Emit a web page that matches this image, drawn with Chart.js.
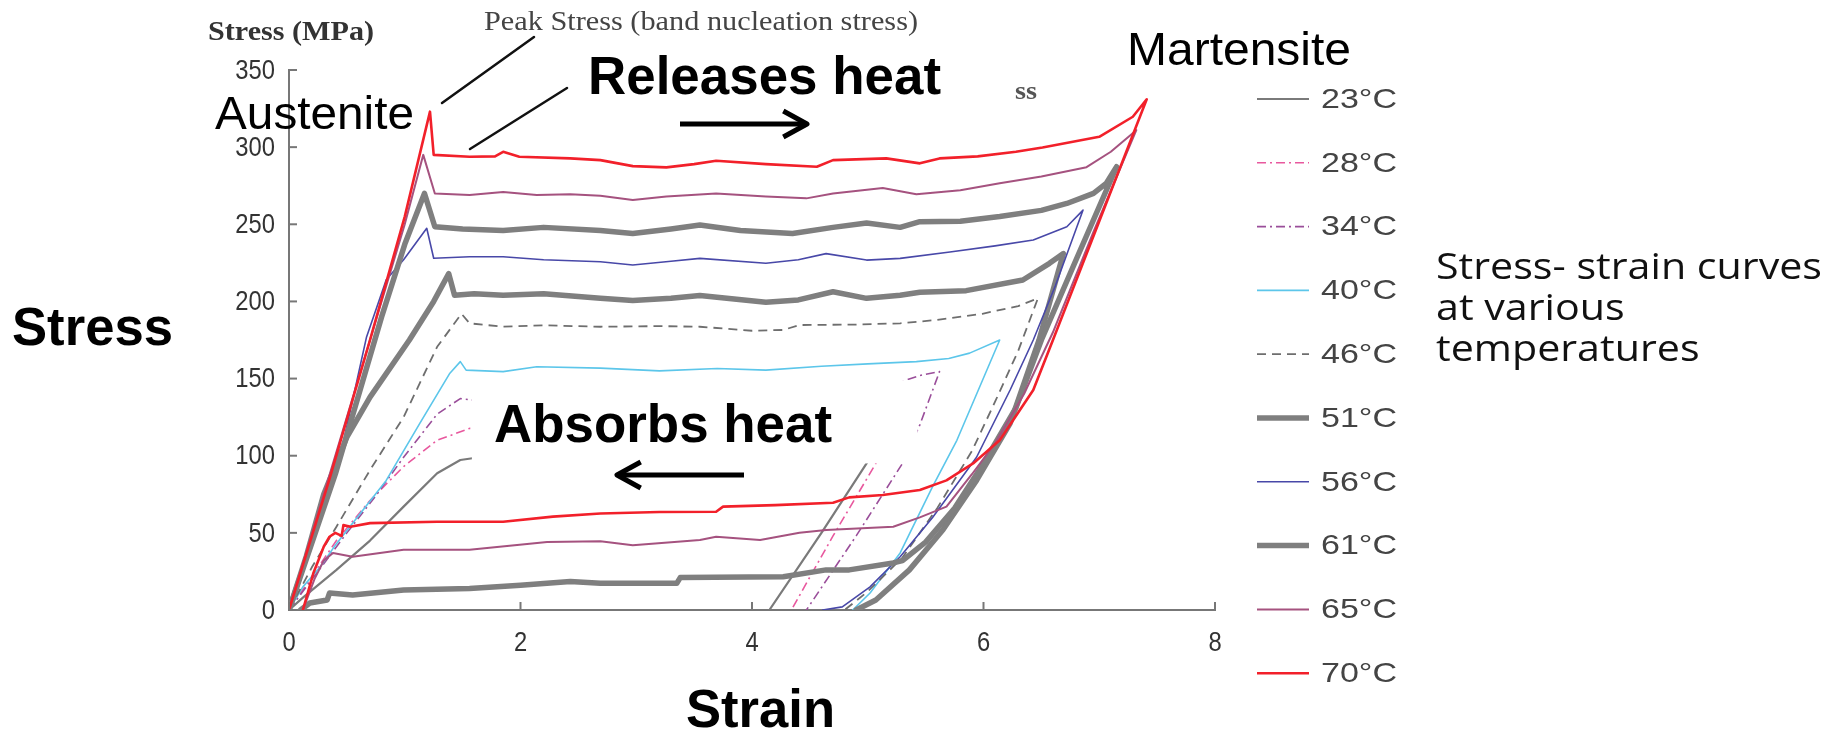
<!DOCTYPE html>
<html>
<head>
<meta charset="utf-8">
<title>Stress-strain curves</title>
<script src="https://cdn.jsdelivr.net/npm/chart.js@4.4.1/dist/chart.umd.min.js"></script>
<style>
  html, body { margin: 0; padding: 0; background: #fff; }
  #wrap { width: 1845px; height: 732px; }
</style>
</head>
<body>
<div id="wrap"><canvas id="ssChart" width="1845" height="732"></canvas></div>
<script>
// Test temperatures (legend order)
const temps = ['23°C', '28°C', '34°C', '40°C', '46°C', '51°C', '56°C', '61°C', '65°C', '70°C'];

// Axis ticks
const xTicks = [0, 2, 4, 6, 8];
const yTicks = [0, 50, 100, 150, 200, 250, 300, 350];

// Loading / unloading loops, [strain %, stress MPa]
const curve23 = [[0,0],[0.12,8],[0.41,26],[0.7,45],[0.99,67],[1.28,88.6],[1.48,97.2],[1.6,98.5],[2.5,100],[4.0,102],
  [5.0,105],[5.1,107],[4.99,95],[4.6,50],[4.15,0]];

const curve28 = [[0,0],[0.2,22],[0.41,45],[0.7,71],[0.99,93],[1.28,110],[1.56,117.7],[2.5,119],[4.0,121],[5.0,124],
  [5.22,126],[5.07,95],[4.7,48],[4.34,0]];

const curve34 = [[0,0],[0.25,25],[0.5,50],[0.75,74],[0.99,99],[1.28,127],[1.48,137],[1.6,136],[2.5,137],[3.5,139],
  [4.5,143],[5.25,147],[5.45,152],[5.62,154.5],[5.45,120],[5.3,95],[4.9,48],[4.47,0]];

const curve40 = [[0,0],[0.12,15],[0.27,28],[0.41,43],[0.84,84],[1.13,121],[1.39,153.5],[1.48,161],[1.53,155.5],
  [1.85,154.5],[2.14,157.7],[2.69,156.8],[3.2,155],[3.7,156.5],[4.12,155.5],[4.6,158],[5.0,159.5],[5.42,161],
  [5.7,163],[5.88,166.5],[6.14,175],[5.77,110],[5.56,80],[5.28,37],[5.02,11],[4.87,0]];

const curve46 = [[0,0],[0.2,28],[0.41,54],[0.7,90.7],[0.99,125],[1.28,170.6],[1.49,192],[1.56,185.8],[1.85,183.6],
  [2.2,184.5],[2.69,183.6],[3.2,184],[3.55,183.6],[4.0,181],[4.27,181.5],[4.41,184.7],[4.9,185],[5.28,185.8],
  [5.6,188],[5.99,192],[6.3,197],[6.47,202],[6.3,168],[6.1,135],[5.9,103],[5.6,66],[5.3,34],[5.0,12],[4.8,0]];

const curve51 = [[0,0],[0.15,35],[0.3,75],[0.5,112],[0.7,138],[1.04,175],[1.25,200],[1.38,218],[1.43,204],[1.6,205],
  [1.85,204],[2.2,205],[2.69,202],[2.97,200.6],[3.3,202],[3.55,203.8],[4.12,199.5],[4.4,201],[4.7,206.3],[4.99,202],
  [5.28,204],[5.45,206],[5.85,207],[6.34,213.9],[6.57,224.7],[6.69,231],[6.48,175],[6.23,121],[5.94,84],[5.65,52],
  [5.36,26],[5.07,6.5],[4.9,0]];

const curve56 = [[0,0],[0.12,24],[0.41,88.6],[0.67,177],[0.84,214],[0.99,227],[1.19,247.4],[1.25,228],[1.56,229],
  [1.85,229],[2.2,227],[2.69,225.7],[2.97,223.6],[3.3,226],[3.55,227.9],[4.12,224.7],[4.4,227],[4.64,231],
  [4.99,226.8],[5.28,227.9],[5.71,232],[6.1,236],[6.43,239.8],[6.72,248.4],[6.86,259.2],[6.62,210],[6.43,175],
  [6.23,142.6],[5.94,99],[5.56,60],[5.28,34.5],[5.02,15],[4.78,2],[4.61,0]];

const curve61 = [[0,0],[0.4,88],[0.8,190],[1.0,237],[1.17,270],[1.26,248.4],[1.5,247],[1.85,246],[2.2,248],[2.69,246],
  [2.97,244],[3.3,247],[3.55,249.5],[3.9,246],[4.35,244],[4.7,248],[4.99,250.8],[5.28,248],[5.45,251.7],[5.8,252],
  [6.14,255],[6.5,259],[6.72,263.5],[6.95,270],[7.06,276.5],[7.15,287.3],[6.8,227],[6.5,175],[6.28,131],[6.0,95],
  [5.75,66],[5.5,44],[5.3,32],[5.22,30.5],[4.84,26],[4.64,26],[4.27,21.6],[3.38,21],[3.35,17.3],[2.69,17.3],
  [2.43,18.4],[2.0,16],[1.56,14],[0.99,13],[0.55,9.7],[0.35,11],[0.33,6.5],[0.18,4.5],[0.1,0]];

const curve65 = [[0,0],[0.6,150],[1.0,250],[1.16,295],[1.26,270],[1.56,269],[1.85,271],[2.14,269],[2.43,269.5],
  [2.69,268.5],[2.97,265.7],[3.26,268],[3.69,270],[4.12,268],[4.47,266.8],[4.7,270],[5.13,273.5],[5.42,269.5],
  [5.8,272],[6.14,276.6],[6.5,281],[6.89,287],[7.1,297],[7.32,311],[6.95,245],[6.6,180],[6.35,140],[6.1,108],
  [5.9,88],[5.68,67],[5.45,60],[5.22,54],[4.64,51.8],[4.41,50],[4.07,45.4],[3.69,47.5],[3.55,45.4],[2.97,42],
  [2.69,44.5],[2.23,44],[1.56,39],[0.99,39],[0.55,34.5],[0.38,37],[0.3,32],[0.22,20],[0.12,0]];

const curve70 = [[0,0],[0.35,85],[0.7,175],[1.0,255],[1.218,323],[1.25,295],[1.56,293.8],[1.78,294],[1.85,297],
  [1.99,293.8],[2.43,292.7],[2.69,291.6],[2.97,287.7],[3.26,286.9],[3.5,289],[3.69,291.2],[4.12,289],[4.56,287.3],
  [4.7,291.6],[5.16,292.7],[5.45,289.5],[5.62,292.7],[5.95,294],[6.28,297],[6.51,299.8],[7.0,306.7],[7.29,319.7],
  [7.41,331],[7.0,252],[6.6,175],[6.43,142.6],[6.14,110],[5.91,95],[5.68,84],[5.45,77.8],[5.13,74.5],[4.84,73],
  [4.7,69.5],[4.2,68],[3.75,67],[3.69,63.7],[3.2,63.5],[2.69,62.5],[2.28,60.5],[1.85,57.2],[1.28,57.2],[0.7,56.3],
  [0.53,54],[0.47,55],[0.455,48],[0.4,50],[0.35,47.5],[0.3,41],[0.21,23.8],[0.12,0]];

const curves = [curve23, curve28, curve34, curve40, curve46, curve51, curve56, curve61, curve65, curve70];

// line styles per temperature
const styles = [
  { color: '#7a7a7a', width: 2.2, dash: [] },
  { color: '#e8589e', width: 1.6, dash: [9, 4, 2, 4] },
  { color: '#9a4e9a', width: 1.6, dash: [9, 4, 2, 4] },
  { color: '#5cc6ea', width: 1.6, dash: [] },
  { color: '#6e6e6e', width: 1.8, dash: [9, 6] },
  { color: '#7f7f7f', width: 5.5, dash: [] },
  { color: '#4848a8', width: 1.6, dash: [] },
  { color: '#7f7f7f', width: 5.5, dash: [] },
  { color: '#a5527f', width: 2, dash: [] },
  { color: '#f2202a', width: 2.6, dash: [] }
];

const SANS = '"Liberation Sans", Arial, Helvetica, sans-serif';
const SERIF = '"Liberation Serif", "Times New Roman", serif';
const NOTE = '"Open Sans", "Noto Sans", sans-serif';

// text squeezed/stretched horizontally; width = target width, or a plain factor via sx
function drawText(ctx, text, x, y, font, color, width, sx) {
  ctx.font = font;
  ctx.fillStyle = color;
  const w = ctx.measureText(text).width;
  const k = width ? width / w : (sx || 1);
  ctx.save();
  ctx.translate(x, y);
  ctx.scale(k, 1);
  ctx.fillText(text, 0, 0);
  ctx.restore();
}

function line(ctx, x0, y0, x1, y1) {
  ctx.beginPath();
  ctx.moveTo(x0, y0);
  ctx.lineTo(x1, y1);
  ctx.stroke();
}

function arrow(ctx, x0, y0, x1, y1) {
  const ang = Math.atan2(y1 - y0, x1 - x0);
  const head = 27;
  line(ctx, x0, y0, x1 - 3 * Math.cos(ang), y1);
  ctx.beginPath();
  ctx.moveTo(x1 - head * Math.cos(ang - 0.5), y1 - head * Math.sin(ang - 0.5));
  ctx.lineTo(x1, y1);
  ctx.lineTo(x1 - head * Math.cos(ang + 0.5), y1 - head * Math.sin(ang + 0.5));
  ctx.stroke();
}

const overlay = {
  id: 'overlay',
  afterDatasetsDraw(chart) {
    const { ctx, chartArea: area, scales: { x, y } } = chart;
    ctx.save();

    // tick marks point into the plot
    ctx.strokeStyle = '#777';
    ctx.lineWidth = 2;
    yTicks.forEach(v => {
      const py = y.getPixelForValue(v);
      line(ctx, area.left, py, area.left + 8, py);
    });
    xTicks.forEach(v => {
      const px = x.getPixelForValue(v);
      line(ctx, px, area.bottom, px, area.bottom - 8);
    });

    // tick labels, slightly condensed digits
    ctx.textBaseline = 'middle';
    ctx.textAlign = 'right';
    yTicks.forEach(v => {
      drawText(ctx, String(v), area.left - 14, y.getPixelForValue(v) + 1, '28px ' + SANS, '#333', 0, 0.85);
    });
    ctx.textAlign = 'center';
    xTicks.forEach(v => {
      drawText(ctx, String(v), x.getPixelForValue(v), area.bottom + 33, '28px ' + SANS, '#333', 0, 0.85);
    });

    // white panel under the lower caption
    const bx0 = x.getPixelForValue(1.58), bx1 = x.getPixelForValue(5.43);
    const by0 = y.getPixelForValue(149), by1 = y.getPixelForValue(95);
    ctx.fillStyle = '#fff';
    ctx.fillRect(bx0, by0, bx1 - bx0, by1 - by0);

    ctx.textAlign = 'left';
    ctx.textBaseline = 'alphabetic';

    // figure labels
    drawText(ctx, 'Stress (MPa)', 208, 40, 'bold 27px ' + SERIF, '#333', 166);
    drawText(ctx, 'Peak Stress (band nucleation stress)', 484, 30, '28px ' + SERIF, '#444', 434);
    drawText(ctx, 'ss', 1015, 99, 'bold 26px ' + SERIF, '#555', 22);

    // leader lines to the peak
    ctx.strokeStyle = '#111';
    ctx.lineWidth = 2.5;
    ctx.lineCap = 'round';
    line(ctx, 442, 103, 534, 37);
    line(ctx, 470, 149, 567, 88);

    // annotations
    drawText(ctx, 'Austenite', 215, 129, '46px ' + SANS, '#000', 199);
    drawText(ctx, 'Martensite', 1127, 65, '46px ' + SANS, '#000', 224);
    drawText(ctx, 'Releases heat', 588, 94, 'bold 53px ' + SANS, '#000', 353);
    drawText(ctx, 'Absorbs heat', 494, 442, 'bold 53px ' + SANS, '#000', 338);
    drawText(ctx, 'Stress', 12, 345, 'bold 53px ' + SANS, '#000', 161);
    drawText(ctx, 'Strain', 686, 727, 'bold 53px ' + SANS, '#000', 149);

    ctx.strokeStyle = '#000';
    ctx.lineWidth = 5;
    ctx.lineCap = 'butt';
    ctx.lineJoin = 'round';
    arrow(ctx, 680, 124, 807, 124);
    arrow(ctx, 744, 475, 617, 475);

    // legend
    chart.data.datasets.forEach((ds, i) => {
      const ly = 99 + i * 63.8;
      ctx.strokeStyle = ds.borderColor;
      ctx.lineWidth = ds.borderWidth;
      ctx.setLineDash(ds.borderDash);
      ctx.lineCap = 'butt';
      line(ctx, 1257, ly, 1309, ly);
      ctx.setLineDash([]);
      ctx.textBaseline = 'middle';
      drawText(ctx, ds.label, 1321, ly + 1, '28px ' + SANS, '#444', 76);
    });

    // side note
    ctx.textBaseline = 'alphabetic';
    const noteLines = ['Stress- strain curves', 'at various', 'temperatures'];
    ctx.font = '37px ' + NOTE;
    const nsx = 386 / ctx.measureText(noteLines[0]).width;
    ctx.fillStyle = '#111';
    noteLines.forEach((t, i) => {
      ctx.save();
      ctx.translate(1436, 279 + i * 41);
      ctx.scale(nsx, 1);
      ctx.fillText(t, 0, 0);
      ctx.restore();
    });

    ctx.restore();
  }
};

new Chart(document.getElementById('ssChart'), {
  type: 'line',
  data: {
    datasets: curves.map((pts, i) => ({
      label: temps[i],
      data: pts.map(([x, y]) => ({ x, y })),
      borderColor: styles[i].color,
      borderWidth: styles[i].width,
      borderDash: styles[i].dash,
      borderCapStyle: styles[i].dash.length ? 'butt' : 'round',
      borderJoinStyle: 'round',
      pointRadius: 0,
      tension: 0,
      fill: false,
      order: curves.length - 1 - i
    }))
  },
  options: {
    responsive: false,
    animation: false,
    events: [],
    layout: { padding: { left: 229, right: 630, top: 70, bottom: 72 } },
    plugins: { legend: { display: false }, tooltip: { enabled: false } },
    scales: {
      x: {
        type: 'linear',
        min: 0,
        max: 8,
        afterBuildTicks: s => { s.ticks = xTicks.map(v => ({ value: v })); },
        afterFit: s => { s.height = 50; },
        grid: { display: false },
        border: { display: true, color: '#777', width: 2 },
        ticks: { display: false }
      },
      y: {
        type: 'linear',
        min: 0,
        max: 350,
        afterBuildTicks: s => { s.ticks = yTicks.map(v => ({ value: v })); },
        afterFit: s => { s.width = 60; },
        grid: { display: false },
        border: { display: true, color: '#777', width: 2 },
        ticks: { display: false }
      }
    }
  },
  plugins: [overlay]
});
</script>
</body>
</html>
